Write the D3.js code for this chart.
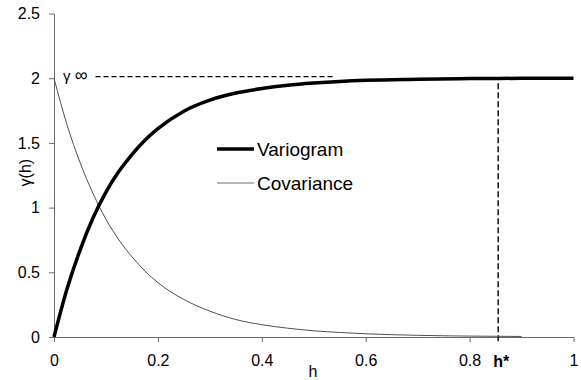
<!DOCTYPE html>
<html>
<head>
<meta charset="utf-8">
<script src="https://cdn.jsdelivr.net/npm/d3@7"></script>
<style>
  html, body { margin: 0; padding: 0; background: #fff; }
  svg { display: block; font-family: "Liberation Sans", Arial, sans-serif; }
</style>
</head>
<body>
<svg id="chart" width="581" height="380"></svg>
<script>
// Lag distances and the two model curves
const lagVariogram = [0, 0.025, 0.05, 0.075, 0.1, 0.125, 0.15, 0.175, 0.2, 0.25, 0.3, 0.35, 0.4, 0.45, 0.5, 0.55, 0.6, 0.7, 0.8, 0.9, 1.0];
const variogram    = [0, 0.37, 0.67, 0.92, 1.12, 1.28, 1.41, 1.52, 1.61, 1.745, 1.83, 1.885, 1.92, 1.945, 1.962, 1.975, 1.984, 1.992, 1.997, 1.999, 2.0];

const lagCovariance = [0, 0.025, 0.05, 0.075, 0.1, 0.125, 0.15, 0.175, 0.2, 0.25, 0.3, 0.35, 0.4, 0.45, 0.5, 0.55, 0.6, 0.7, 0.8, 0.9];
const covariance    = [2.0, 1.64, 1.35, 1.11, 0.91, 0.75, 0.62, 0.51, 0.42, 0.29, 0.20, 0.135, 0.095, 0.068, 0.048, 0.035, 0.025, 0.013, 0.007, 0.004];

// Sill, sill marker extent and the range h*
const sill = 2;
const sillMarkerFrom = 0.08;
const sillMarkerTo = 0.54;
const hStar = 0.855;

// Axis ticks
const xTicks = [0, 0.2, 0.4, 0.6, 0.8, 1];
const xTickLabels = ["0", "0.2", "0.4", "0.6", "0.8", "1"];
const yTicks = [0, 0.5, 1, 1.5, 2, 2.5];
const yTickLabels = ["0", "0.5", "1", "1.5", "2", "2.5"];

const seriesNames = ["Variogram", "Covariance"];

const svg = d3.select("#chart");
const axisColor = "#6a6a6a";

const x = d3.scaleLinear().domain([0, 1]).range([54, 573.5]);
const y = d3.scaleLinear().domain([0, 2.5]).range([337, 13.5]);

// Axes
const xAxis = d3.axisBottom(x).tickValues(xTicks)
  .tickFormat((d, i) => xTickLabels[i]).tickSize(5).tickPadding(13).tickSizeOuter(0);
const yAxis = d3.axisLeft(y).tickValues(yTicks)
  .tickFormat((d, i) => yTickLabels[i]).tickSize(5).tickPadding(9).tickSizeOuter(0);

const gx = svg.append("g").attr("transform", `translate(0,${y(0)})`).call(xAxis);
const gy = svg.append("g").attr("transform", `translate(${x(0)},0)`).call(yAxis);
[gx, gy].forEach(g => {
  g.select(".domain").attr("stroke", axisColor);
  g.selectAll(".tick line").attr("stroke", axisColor);
  g.selectAll(".tick text").attr("fill", "#000").style("font-size", "16px")
    .style("font-family", "'Liberation Sans', Arial, sans-serif");
});

// Axis titles
svg.append("text")
  .attr("x", 313).attr("y", 377)
  .attr("text-anchor", "middle")
  .style("font-size", "16px")
  .text("h");

svg.append("text")
  .attr("transform", `translate(31,${y(1.27)}) rotate(-90)`)
  .attr("text-anchor", "middle")
  .style("font-size", "16px")
  .text("γ(h)");

// Sill marker
svg.append("line")
  .attr("x1", x(sillMarkerFrom)).attr("x2", x(sillMarkerTo))
  .attr("y1", y(sill) - 1.5).attr("y2", y(sill) - 1.5)
  .attr("stroke", "#000").attr("stroke-width", 1.2)
  .attr("stroke-dasharray", "5,3");

const sillLabel = svg.append("text")
  .attr("x", 63).attr("y", y(sill) + 3)
  .style("font-size", "15px");
sillLabel.append("tspan").text("γ ");
sillLabel.append("tspan").style("font-size", "18px").text("∞");

// Range marker h*
svg.append("line")
  .attr("x1", x(hStar)).attr("x2", x(hStar))
  .attr("y1", y(sill) + 5).attr("y2", y(0) + 5)
  .attr("stroke", "#000").attr("stroke-width", 1.4)
  .attr("stroke-dasharray", "6,3");

svg.append("text")
  .attr("x", x(hStar) + 3).attr("y", 367)
  .attr("text-anchor", "middle")
  .style("font-size", "16px").style("font-weight", "bold")
  .text("h*");

// Curves
const line = d3.line()
  .x(d => x(d[0]))
  .y(d => y(d[1]))
  .curve(d3.curveMonotoneX);

svg.append("path")
  .datum(lagCovariance.map((h, i) => [h, covariance[i]]))
  .attr("fill", "none")
  .attr("stroke", "#505050")
  .attr("stroke-width", 1)
  .attr("d", line);

svg.append("path")
  .datum(lagVariogram.map((h, i) => [h, variogram[i]]))
  .attr("fill", "none")
  .attr("stroke", "#000")
  .attr("stroke-width", 3.5)
  .attr("d", line);

// Legend
const legend = svg.append("g");
const legendRows = [
  { name: seriesNames[0], y: 149, stroke: "#000", width: 3.5, textY: 156 },
  { name: seriesNames[1], y: 183, stroke: "#707070", width: 1, textY: 190 }
];
legendRows.forEach(r => {
  legend.append("line")
    .attr("x1", 217).attr("x2", 254)
    .attr("y1", r.y).attr("y2", r.y)
    .attr("stroke", r.stroke).attr("stroke-width", r.width);
  legend.append("text")
    .attr("x", 257).attr("y", r.textY)
    .style("font-size", "19px")
    .text(r.name);
});
</script>
</body>
</html>
